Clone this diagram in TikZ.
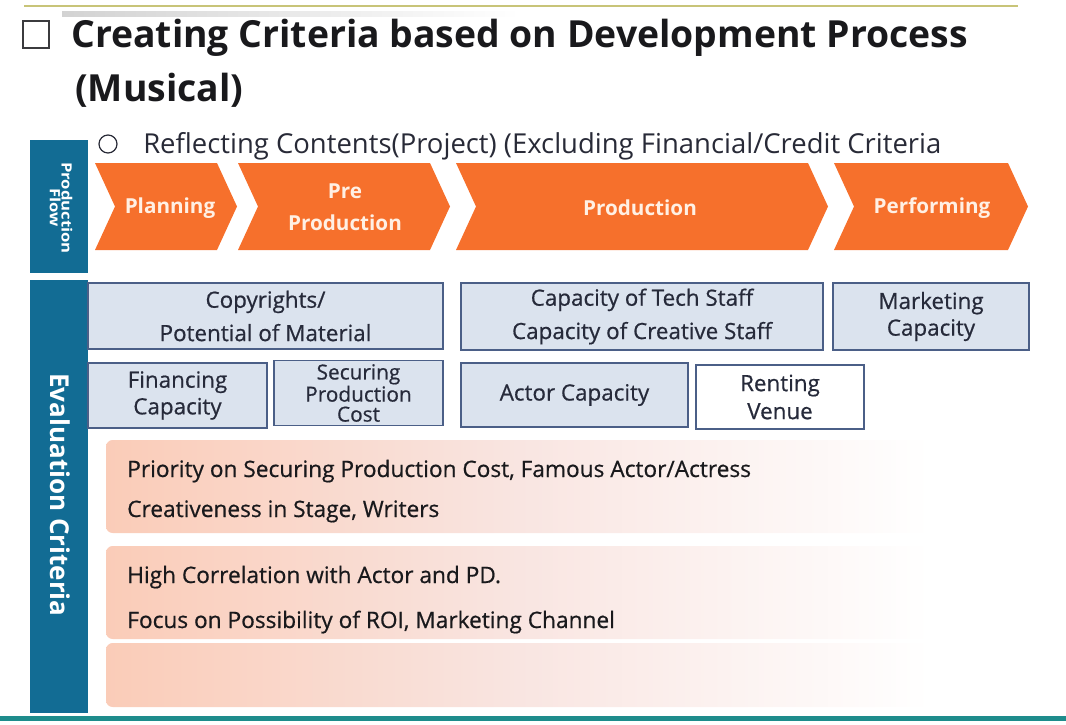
\documentclass[tikz,border=0pt]{standalone}
\usepackage{fontspec}
\setmainfont{Open Sans}
\usepackage{graphicx}
\definecolor{titlecol}{RGB}{25,25,28}
\definecolor{subcol}{RGB}{40,42,55}
\definecolor{boxtext}{RGB}{38,42,58}
\definecolor{bluebar}{RGB}{18,108,148}
\definecolor{chevorange}{RGB}{246,112,44}
\definecolor{chevtext}{RGB}{255,240,228}
\definecolor{boxfill}{RGB}{219,227,238}
\definecolor{boxdraw}{RGB}{75,95,135}
\definecolor{peach}{RGB}{250,204,184}
\definecolor{peachmid}{RGB}{249,229,225}
\definecolor{olive}{RGB}{200,196,120}
\definecolor{tealline}{RGB}{30,140,140}
\newcommand\fsz[2]{\fontsize{#1}{#2}\selectfont}
\newcommand\semib{\addfontfeature{FakeBold=0.6}}
\tikzset{
  cbox/.style={draw=boxdraw, line width=1.1pt, fill=boxfill, inner sep=0pt, align=center,
    text=boxtext, font=\semib\fsz{16.8}{25}},
  chevlabel/.style={text=chevtext, font=\bfseries\fsz{15.5}{23}, align=center, inner sep=0pt},
  crit/.style={anchor=base west, inner sep=0pt, text=titlecol, font=\semib\fsz{17}{20}},
  pinkbox/.style={left color=peach, right color=white, middle color=peachmid, rounded corners=5pt},
  sidebar/.style={fill=bluebar}
}
\begin{document}
\begin{tikzpicture}[x=0.75pt,y=-0.75pt]
\useasboundingbox (0,0) rectangle (1066,724);
% top rule
\draw[olive, line width=1.8pt] (24,6) -- (1018,6);
\shade[left color=gray!35, right color=white] (62,12) rectangle (520,17);
% title
\draw[titlecol!85, line width=1.2pt] (23,21) rectangle (49,48);
\node[anchor=base west, inner sep=0pt, text=titlecol, font=\bfseries\fsz{28}{32}] (title1) at (71,48) {Creating Criteria based on Development Process};
\node[anchor=base west, inner sep=0pt, text=titlecol, font=\bfseries\fsz{28}{32}] (title2) at (75,101) {(Musical)};
% subtitle
\draw[subcol, line width=0.9pt] (108,144) circle (9);
\node[anchor=base west, inner sep=0pt, text=subcol, font=\fsz{20.6}{24}] (sub) at (143,153) {Reflecting Contents(Project) (Excluding Financial/Credit Criteria};
% side bars
\fill[sidebar] (30,140) rectangle (88,273);
\fill[sidebar] (30,280) rectangle (88,713);
\node[rotate=-90, text=white, inner sep=0pt] (pflow) at (59,208) {\scalebox{1}[0.85]{\bfseries\fsz{12.5}{13}\begin{tabular}{@{}c@{}}Production\\[-3pt]Flow\end{tabular}}};
\node[rotate=-90, text=white, inner sep=0pt, font=\bfseries\fsz{19.5}{20}] (evalc) at (60,495) {Evaluation Criteria};
% chevrons
\fill[chevorange] (95,163) -- (217,163) -- (237,206.5) -- (217,250) -- (95,250) -- (115,206.5) -- cycle;
\fill[chevorange] (238,163) -- (430,163) -- (450,206.5) -- (430,250) -- (238,250) -- (258,206.5) -- cycle;
\fill[chevorange] (456,163) -- (808,163) -- (828,206.5) -- (808,250) -- (456,250) -- (476,206.5) -- cycle;
\fill[chevorange] (834,163) -- (1008,163) -- (1028,206.5) -- (1008,250) -- (834,250) -- (854,206.5) -- cycle;
\node[chevlabel] (plan) at (170,208) {Planning};
\node[chevlabel, font=\bfseries\fsz{15.5}{24}] (prepro) at (345,207) {Pre\\Production};
\node[chevlabel] (prod) at (640,208) {Production};
\node[chevlabel] (perf) at (932,208) {Performing};
% evaluation boxes
\node[cbox, minimum width=266.25pt, minimum height=49.5pt] (copy) at (265.5,316) {Copyrights/\\Potential of Material};
\node[cbox, minimum width=271.5pt, minimum height=50.25pt] (tech) at (642,316.5) {Capacity of Tech Staff\\Capacity of Creative Staff};
\node[cbox, minimum width=147pt, minimum height=50.25pt, font=\semib\fsz{16.8}{20}] (mkt) at (931,316.5) {Marketing\\Capacity};
\node[cbox, minimum width=134.25pt, minimum height=48.75pt, font=\semib\fsz{16.8}{20}] (fin) at (177.5,395.5) {Financing\\Capacity};
\node[cbox, minimum width=126.75pt, minimum height=48.75pt, font=\semib\fsz{15.6}{15}] (secure) at (358.5,393) {Securing\\Production\\Cost};
\node[cbox, minimum width=170.25pt, minimum height=48pt] (actor) at (574.5,395) {Actor Capacity};
\node[cbox, fill=white, minimum width=126pt, minimum height=48pt, font=\semib\fsz{16.8}{21}] (venue) at (780,397) {Renting\\Venue};
% criteria rows
\shade[pinkbox] (106,440) rectangle (930,533);
\shade[pinkbox] (106,546) rectangle (930,639);
\shade[pinkbox] (106,643) rectangle (930,707);
\node[crit] (c1a) at (127,477) {Priority on Securing Production Cost, Famous Actor/Actress};
\node[crit] (c1b) at (127,517) {Creativeness in Stage, Writers};
\node[crit] (c2a) at (127,583) {High Correlation with Actor and PD.};
\node[crit] (c2b) at (127,628) {Focus on Possibility of ROI, Marketing Channel};
% bottom rule
\fill[tealline] (0,716) rectangle (1066,721);
\end{tikzpicture}
\end{document}
